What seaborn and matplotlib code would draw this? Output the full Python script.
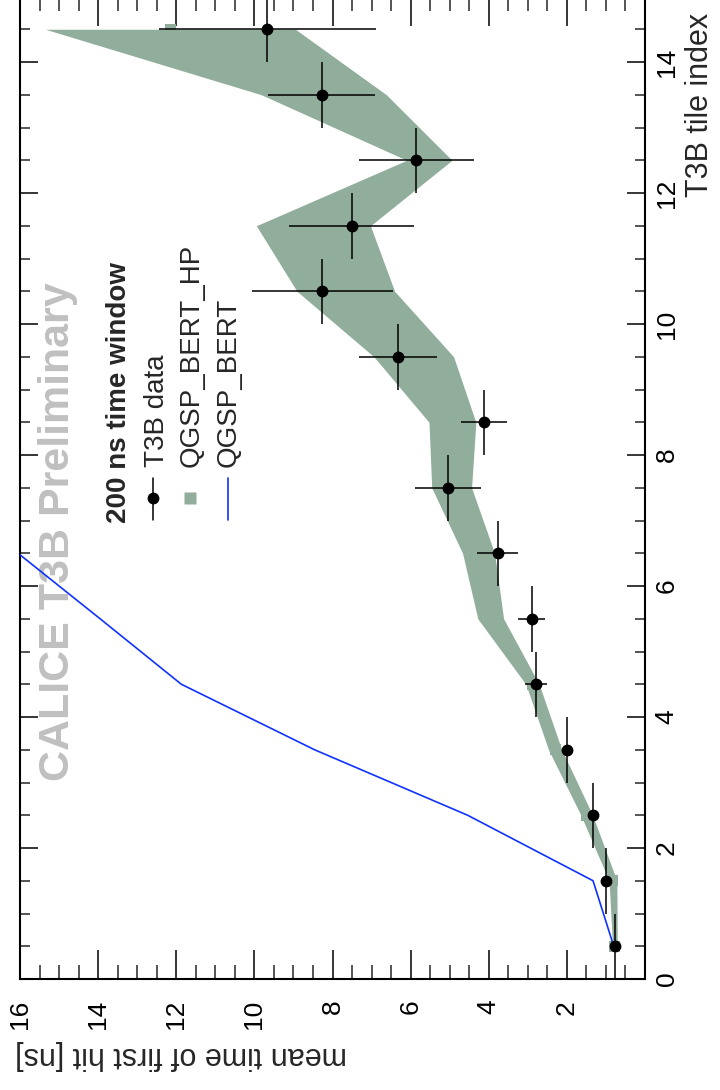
import matplotlib
matplotlib.use("Agg")
import matplotlib.pyplot as plt
from matplotlib.lines import Line2D
from matplotlib.ticker import MultipleLocator, FuncFormatter
import seaborn as sns

# T3B tile centres (tile index axis)
tile = [0.5, 1.5, 2.5, 3.5, 4.5, 5.5, 6.5, 7.5, 8.5, 9.5, 10.5, 11.5, 12.5, 13.5, 14.5]

# T3B data: mean time of first hit [ns] and its uncertainty
data_time = [0.77, 1.00, 1.33, 2.00, 2.80, 2.90, 3.77, 5.05, 4.13, 6.33, 8.26, 7.51, 5.85, 8.27, 9.67]
data_err = [0.05, 0.08, 0.10, 0.12, 0.28, 0.35, 0.53, 0.85, 0.59, 1.00, 1.81, 1.60, 1.46, 1.37, 2.78]

# QGSP_BERT_HP simulation with its band
hp_time = [0.77, 0.82, 1.49, 2.30, 2.88, 3.95, 4.26, 4.95, 4.93, 5.92, 7.66, 8.49, 5.52, 8.22, 12.15]
hp_err = [0.06, 0.10, 0.15, 0.17, 0.17, 0.33, 0.41, 0.51, 0.60, 1.02, 1.25, 1.46, 0.58, 1.60, 3.20]

# QGSP_BERT simulation (leaves the plotted range after tile 6)
bert_tile = [0.5, 1.5, 2.5, 3.5, 4.5, 5.5, 6.5]
bert_time = [0.80, 1.33, 4.54, 8.46, 11.87, 13.95, 16.05]

BAND = "#91ad9b"
BLUE = "#1032ff"
W, H = 720, 1090

sns.set_theme(style="ticks")
plt.rcParams["font.family"] = ["Liberation Sans", "DejaVu Sans"]


def fx(px):
    return px / W


def fy(py):
    return 1 - py / H


fig = plt.figure(figsize=(W / 100, H / 100), dpi=100)
fig.patch.set_facecolor("white")
ax = fig.add_axes([fx(20), fy(979), 625 / W, 982.5 / H])
ax.set_facecolor("white")

hp_lo = [v - e for v, e in zip(hp_time, hp_err)]
hp_hi = [v + e for v, e in zip(hp_time, hp_err)]
ax.fill_betweenx(tile, hp_lo, hp_hi, color=BAND, lw=0, zorder=2)
sns.scatterplot(x=hp_time, y=tile, marker="s", s=62, color=BAND,
                edgecolor="none", linewidth=0, ax=ax, zorder=2, legend=False)

sns.lineplot(x=bert_time, y=bert_tile, orient="y", sort=False, estimator=None,
             color=BLUE, lw=1.2, ax=ax, zorder=3, legend=False)

ax.errorbar(data_time, tile, xerr=data_err, yerr=0.5, fmt="o", color="black",
            ms=7.5, elinewidth=1.1, capsize=0, zorder=4)

ax.set_xlim(16, 0)
ax.set_ylim(0, 15)
ax.set_xlabel("")
ax.set_ylabel("")

ax.xaxis.set_major_locator(MultipleLocator(2))
ax.xaxis.set_minor_locator(MultipleLocator(0.5))
ax.yaxis.set_major_locator(MultipleLocator(2))
ax.yaxis.set_minor_locator(MultipleLocator(0.5))
ax.xaxis.set_major_formatter(FuncFormatter(lambda v, p: "" if abs(v) < 1e-9 else f"{v:g}"))
ax.yaxis.set_major_formatter(FuncFormatter(lambda v, p: f"{v:g}"))

ax.tick_params(axis="x", which="major", direction="in", length=21, width=1.1,
               top=True, bottom=True, labelbottom=True, labeltop=False,
               labelrotation=90, labelsize=19, pad=15, colors="black")
ax.tick_params(axis="x", which="minor", direction="in", length=10, width=1.1,
               top=True, bottom=True)
ax.tick_params(axis="y", which="major", direction="in", length=13, width=1.1,
               left=True, right=True, labelleft=False, labelright=True,
               labelrotation=90, labelsize=19, pad=7, colors="black")
ax.tick_params(axis="y", which="minor", direction="in", length=7, width=1.1,
               left=True, right=True)
for lab in ax.get_yticklabels():
    lab.set_verticalalignment("center")

for sp in ax.spines.values():
    sp.set_visible(True)
    sp.set_linewidth(1.5)
    sp.set_color("black")

# axis titles
fig.text(fx(15), fy(1055), "mean time of first hit [ns]", rotation=180,
         ha="left", va="center", fontsize=22)
fig.text(fx(700), fy(197), "T3B tile index", rotation=90,
         ha="center", va="bottom", fontsize=22)

# watermark, kept beneath the curves
ax.text(fx(58), fy(781), "CALICE T3B Preliminary", transform=fig.transFigure,
        rotation=90, ha="center", va="bottom", fontsize=31, fontweight="bold",
        color="#c0c0c0", zorder=1)

# legend
fig.text(fx(119), fy(523), "200 ns time window", rotation=90, ha="center",
         va="bottom", fontsize=20, fontweight="bold")
fig.add_artist(Line2D([fx(153), fx(153)], [fy(478), fy(520)], color="black",
                      lw=1.1, transform=fig.transFigure))
fig.add_artist(Line2D([fx(153)], [fy(498)], marker="o", ms=7.5, color="black",
                      lw=0, transform=fig.transFigure))
fig.text(fx(157), fy(467), "T3B data", rotation=90, ha="center", va="bottom",
         fontsize=20)
fig.add_artist(Line2D([fx(190)], [fy(498)], marker="s", ms=8, color=BAND,
                      mec="none", lw=0, transform=fig.transFigure))
fig.text(fx(192), fy(467), "QGSP_BERT_HP", rotation=90, ha="center",
         va="bottom", fontsize=20)
fig.add_artist(Line2D([fx(228), fx(228)], [fy(478), fy(520)], color=BLUE,
                      lw=1.2, transform=fig.transFigure))
fig.text(fx(229), fy(467), "QGSP_BERT", rotation=90, ha="center", va="bottom",
         fontsize=20)

fig.savefig("out.png", dpi=100, facecolor="white")
